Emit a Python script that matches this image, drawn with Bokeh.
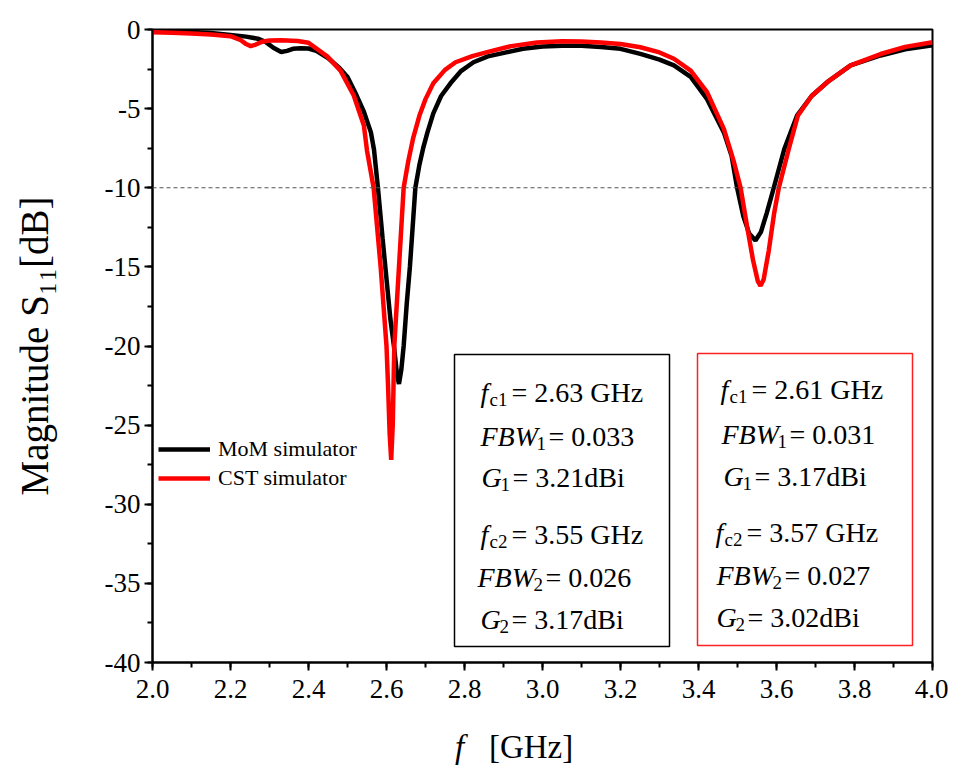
import numpy as np
from bokeh.plotting import figure
from bokeh.models import FixedTicker, Span, Label, BoxAnnotation, Legend, Div
from bokeh.layouts import column
from bokeh.embed import file_html
from bokeh.resources import INLINE

# ---- data ----
mom_f = [2.00, 2.05, 2.10, 2.15, 2.20, 2.24, 2.27, 2.29, 2.31, 2.33, 2.345, 2.36, 2.38, 2.40,
         2.42, 2.45, 2.48, 2.50, 2.52, 2.542, 2.56, 2.568, 2.578, 2.59, 2.597, 2.61, 2.619,
         2.627, 2.632, 2.638, 2.644, 2.652, 2.66, 2.674, 2.684, 2.694, 2.705, 2.72, 2.74,
         2.764, 2.79, 2.823, 2.86, 2.91, 2.95, 3.00, 3.05, 3.10, 3.15, 3.20, 3.251, 3.30,
         3.337, 3.38, 3.422, 3.465, 3.485, 3.499, 3.515, 3.53, 3.546, 3.56, 3.575, 3.593,
         3.62, 3.653, 3.69, 3.73, 3.79, 3.867, 3.93, 4.00]
mom_db = [-0.10, -0.12, -0.15, -0.22, -0.34, -0.45, -0.58, -0.78, -1.15, -1.42, -1.35, -1.22,
          -1.18, -1.20, -1.35, -1.80, -2.45, -3.00, -4.00, -5.20, -6.50, -7.60, -10.0, -13.2,
          -15.0, -18.3, -20.0, -21.8, -22.4, -21.5, -20.0, -17.3, -15.0, -10.0, -8.6, -7.5,
          -6.5, -5.3, -4.2, -3.4, -2.65, -2.07, -1.70, -1.43, -1.22, -1.07, -1.02, -1.03,
          -1.10, -1.22, -1.54, -1.90, -2.27, -3.00, -4.40, -6.50, -8.0, -10.0, -11.8, -12.9,
          -13.33, -12.8, -11.6, -10.0, -7.55, -5.43, -4.2, -3.33, -2.27, -1.64, -1.25, -1.00]

cst_f = [2.00, 2.05, 2.10, 2.15, 2.20, 2.225, 2.24, 2.252, 2.265, 2.28, 2.30, 2.33, 2.372,
         2.40, 2.448, 2.482, 2.516, 2.542, 2.55, 2.567, 2.585, 2.600, 2.604, 2.608, 2.612,
         2.616, 2.62, 2.632, 2.644, 2.656, 2.668, 2.685, 2.70, 2.72, 2.75, 2.777, 2.82,
         2.858, 2.92, 2.986, 3.05, 3.10, 3.15, 3.20, 3.251, 3.30, 3.337, 3.38, 3.422, 3.465,
         3.49, 3.508, 3.525, 3.54, 3.552, 3.559, 3.567, 3.58, 3.594, 3.606, 3.632, 3.655,
         3.69, 3.73, 3.79, 3.867, 3.93, 4.00]
cst_db = [-0.17, -0.20, -0.25, -0.32, -0.42, -0.65, -0.92, -1.05, -0.95, -0.78, -0.70, -0.68,
          -0.73, -0.84, -1.70, -2.60, -4.17, -6.07, -7.65, -10.0, -15.0, -20.0, -22.5, -25.5,
          -27.2, -25.0, -20.0, -15.0, -10.0, -8.3, -6.9, -5.4, -4.4, -3.4, -2.55, -2.07,
          -1.68, -1.43, -1.05, -0.82, -0.75, -0.76, -0.82, -0.92, -1.12, -1.45, -1.85, -2.60,
          -3.96, -6.28, -8.3, -10.0, -12.5, -14.6, -15.9, -16.2, -15.8, -14.0, -11.6, -10.0,
          -7.5, -5.43, -4.2, -3.33, -2.27, -1.55, -1.10, -0.80]

x_ticks = [2.0, 2.2, 2.4, 2.6, 2.8, 3.0, 3.2, 3.4, 3.6, 3.8, 4.0]
x_tick_labels = ["2.0", "2.2", "2.4", "2.6", "2.8", "3.0", "3.2", "3.4", "3.6", "3.8", "4.0"]
y_ticks = [0, -5, -10, -15, -20, -25, -30, -35, -40]
y_tick_labels = ["0", "-5", "-10", "-15", "-20", "-25", "-30", "-35", "-40"]

series_names = ["MoM simulator", "CST simulator"]
threshold_db = -10

# text boxes: (italic, subscript, rest)
mom_box = [("f", "c1", "= 2.63 GHz"), ("FBW", "1", "= 0.033"), ("G", "1", "= 3.21dBi"),
           ("f", "c2", "= 3.55 GHz"), ("FBW", "2", "= 0.026"), ("G", "2", "= 3.17dBi")]
cst_box = [("f", "c1", "= 2.61 GHz"), ("FBW", "1", "= 0.031"), ("G", "1", "= 3.17dBi"),
           ("f", "c2", "= 3.57 GHz"), ("FBW", "2", "= 0.027"), ("G", "2", "= 3.02dBi")]

FONT = "Liberation Serif"

# ---- figure ----
FL, FT = 152, 29          # frame offset in canvas
FW, FH = 780, 633
p = figure(x_range=(2.0, 4.0), y_range=(-40, 0), frame_width=FW, frame_height=FH,
           min_border_left=FL, min_border_right=16, min_border_top=FT, min_border_bottom=50,
           output_backend="svg", toolbar_location=None)
p.grid.visible = False
p.outline_line_color = "black"
p.outline_line_width = 2
p.background_fill_color = "white"
p.border_fill_color = "white"

p.xaxis.ticker = FixedTicker(ticks=x_ticks, minor_ticks=list(np.round(np.arange(2.0, 4.01, 0.1), 2)))
p.yaxis.ticker = FixedTicker(ticks=y_ticks, minor_ticks=list(np.arange(-40, 0.1, 2.5)))
p.xaxis.major_label_overrides = dict(zip(x_ticks, x_tick_labels))
p.yaxis.major_label_overrides = dict(zip(y_ticks, y_tick_labels))
for ax in (p.xaxis, p.yaxis):
    ax.axis_line_width = 2
    ax.major_tick_line_width = 2
    ax.minor_tick_line_width = 2
    ax.major_tick_out = 8
    ax.major_tick_in = 0
    ax.minor_tick_out = 5
    ax.minor_tick_in = 0
    ax.major_label_text_font = FONT
    ax.major_label_text_font_size = "27px"
    ax.major_label_text_color = "black"
    ax.axis_label_text_font = FONT
    ax.axis_label_text_font_style = "normal"
    ax.axis_label_text_color = "black"
p.xaxis.major_label_standoff = 9
p.yaxis.major_label_standoff = 4
p.yaxis.axis_label = "Magnitude S\u2081\u2081[dB]"
p.yaxis.axis_label_text_font_size = "39px"
p.yaxis.axis_label_standoff = 46
p.yaxis.major_label_orientation = "horizontal"

# threshold line
p.add_layout(Span(location=threshold_db, dimension="width", line_color="#555555",
                  line_width=1, line_dash="4 3"))

r1 = p.line(mom_f, mom_db, line_color="black", line_width=4.5)
r2 = p.line(cst_f, cst_db, line_color="#ff0000", line_width=4.5)

legend = Legend(items=[(series_names[0], [r1]), (series_names[1], [r2])],
                location=(6, 171), label_text_font=FONT, label_text_font_size="22px",
                label_text_color="black",
                border_line_color=None, background_fill_alpha=0, glyph_width=52,
                glyph_height=26, label_height=26, spacing=3, padding=4, margin=0,
                label_standoff=8)
p.add_layout(legend)

def px2data(px, py):
    return 2.0 + (px - FL) / 390.0, -(py - FT) / 15.825

# boxes
for (l, r, t, b, col) in [(454, 669, 354, 646, "black"), (697, 912, 353, 645, "#ff2020")]:
    x0, y0 = px2data(l, b)
    x1, y1 = px2data(r, t)
    p.add_layout(BoxAnnotation(left=x0, right=x1, bottom=y0, top=y1, fill_alpha=0,
                               line_color=col, line_alpha=1.0, line_width=1.5))

it_origin = {"f": 3, "FBW": 0, "G": 0}
sub_off = {"f": 12, "FBW": 56, "G": 19}
sub_w = {"c1": 22, "c2": 22, "1": 12, "2": 12}

def box_text(lines, xs, bases):
    for (it, sb, rest), x0, base in zip(lines, xs, bases):
        base = base - 10
        xd, yd = px2data(x0 + it_origin[it], base)
        p.add_layout(Label(x=xd, y=yd, text=it, text_font=FONT, text_font_style="italic",
                           text_font_size="28px", text_color="black",
                           text_baseline="alphabetic"))
        xs_ = x0 + sub_off[it]
        xd, yd = px2data(xs_, base + 7)
        p.add_layout(Label(x=xd, y=yd, text=sb, text_font=FONT, text_font_size="19px",
                           text_color="black", text_baseline="alphabetic"))
        xd, yd = px2data(xs_ + sub_w[sb], base)
        p.add_layout(Label(x=xd, y=yd, text=rest, text_font=FONT, text_font_size="28px",
                           text_color="black", text_baseline="alphabetic"))

box_text(mom_box, [477, 480, 481, 477, 477, 480], [402, 446, 487, 544, 587, 629])
box_text(cst_box, [717, 721, 723, 712, 716, 716], [399, 444, 486, 542, 585, 627])

# x axis label below the figure: italic f + [GHz]
xlabel = Div(text="<i>f</i>&nbsp;&nbsp;&nbsp;[GHz]", width=300, height=40,
             margin=(15, 0, 0, 455),
             styles={"font-family": FONT, "font-size": "33px", "line-height": "40px",
                     "color": "black", "white-space": "nowrap"})

layout = column(p, xlabel, spacing=0)
open("out.html", "w").write(file_html(layout, INLINE))
